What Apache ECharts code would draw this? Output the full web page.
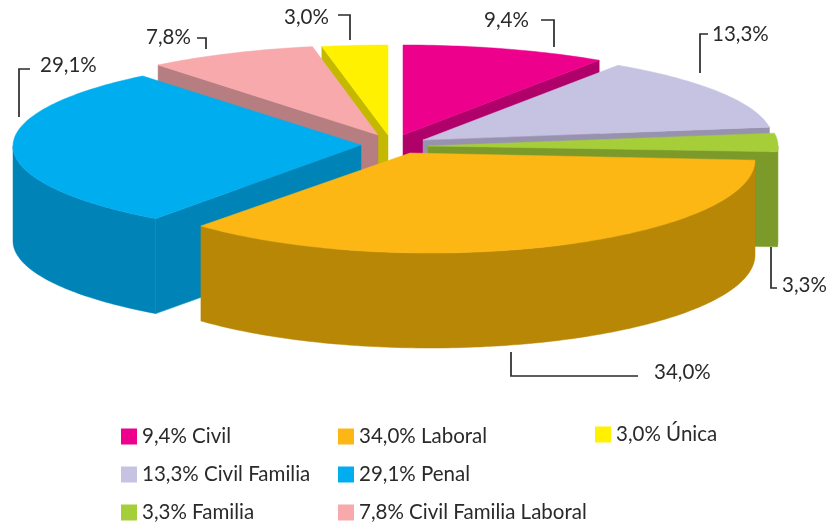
<!DOCTYPE html>
<html>
<head>
<meta charset="UTF-8">
<title>Pie 3D</title>
<style>
html, body { margin: 0; padding: 0; background: #fff; }
#chart { width: 828px; height: 525px; }
</style>
<script src="https://cdn.jsdelivr.net/npm/echarts@6/dist/echarts.min.js"></script>
</head>
<body>
<div id="chart"></div>
<script>
// data, clockwise from 12 o'clock
var categories = ['Civil', 'Civil Familia', 'Familia', 'Laboral', 'Penal', 'Civil Familia Laboral', 'Única'];
var percents = [9.4, 13.3, 3.3, 34.0, 29.1, 7.8, 3.0];
var percentLabels = ['9,4%', '13,3%', '3,3%', '34,0%', '29,1%', '7,8%', '3,0%'];

// look of the slices
var topColors = ['#ec008c', '#c6c3e2', '#a6ce39', '#fdb714', '#00aeef', '#f7a9ab', '#fff100'];
var wallColors = ['#b0006a', '#9793ae', '#7b9a2a', '#b98706', '#0084b8', '#b67e80', '#c4b800'];
var apexX = [403, 423, 428, 410, 361, 378, 388];
var apexY = [135, 140, 146, 153, 145, 135, 135];
// the rim ellipse of each slice; the near slice is drawn a bit off centre, like perspective does
var rimX = [403, 423, 428, 430, 362, 378, 388];
var rimY = [135, 140, 146, 160, 146, 135, 135];
var rimRX = [352, 350, 350, 325, 349, 350, 353];
var rimRY = [90, 90, 90, 93, 90, 90, 90];
var rimShiftStart = [0, 0, 0, -3.6, 0, 0, 0]; // degrees
var rimShiftEnd = [0, 0, 0, 8.6, 0, 0, 0];
var drawOrder = [0, 6, 1, 5, 2, 4, 3]; // back to front
var DEPTH = 95;

// legend spots, same order as categories
var legendLeft = [121, 121, 121, 338, 338, 338, 595];
var legendTop = [426, 464, 502, 426, 464, 502, 424];

// leader lines and where their text goes
var leaderLines = [
    [[554, 47], [554, 20], [541, 20]],
    [[700, 73], [700, 34], [708, 34]],
    [[771, 247], [771, 288], [777, 288]],
    [[511, 352], [511, 376], [638, 376]],
    [[19, 117], [19, 69], [30, 69]],
    [[206, 49], [206, 38], [197, 38]],
    [[350, 40], [350, 15], [338, 15]]
];
var labelSpots = [[484, 20], [712, 34], [782, 285], [654, 372], [40, 65], [146, 37], [284, 17]];

var FONT = 'Lato, "Open Sans", sans-serif';
var FONT_SIZE = 20.5;

var legendNames = [];
var starts = [], ends = [];
var total = 0;
for (var i = 0; i < percents.length; i++) total += percents[i];
var acc = 0;
var RAD = Math.PI / 180;
for (var i = 0; i < percents.length; i++) {
    legendNames.push(percentLabels[i] + ' ' + categories[i]);
    starts.push(acc / total * 360 * RAD + rimShiftStart[i] * RAD);
    acc += percents[i];
    ends.push(acc / total * 360 * RAD + rimShiftEnd[i] * RAD);
}

function pt(idx, a, down) {
    return [rimX[idx] + rimRX[idx] * Math.sin(a), rimY[idx] - rimRY[idx] * Math.cos(a) + (down || 0)];
}

function wallRadial(idx, a) {
    return {
        type: 'polygon',
        shape: { points: [
            [apexX[idx], apexY[idx]], pt(idx, a),
            pt(idx, a, DEPTH), [apexX[idx], apexY[idx] + DEPTH]
        ] },
        style: { fill: wallColors[idx], stroke: wallColors[idx], lineWidth: 0.5 }
    };
}

function renderSlice(idx) {
    var a0 = starts[idx], a1 = ends[idx];
    var kids = [];
    // radial faces, only the ones turned towards us
    if (Math.sin(a0) < 0) kids.push(wallRadial(idx, a0));
    if (Math.sin(a1) > 0) kids.push(wallRadial(idx, a1));
    // rim, front half only
    var from = Math.max(a0, Math.PI / 2), to = Math.min(a1, Math.PI * 1.5);
    var step = RAD, a;
    if (to > from) {
        var up = [], low = [];
        for (a = from; a < to; a += step) { up.push(pt(idx, a)); low.unshift(pt(idx, a, DEPTH)); }
        up.push(pt(idx, to)); low.unshift(pt(idx, to, DEPTH));
        kids.push({
            type: 'polygon',
            shape: { points: up.concat(low) },
            style: { fill: wallColors[idx], stroke: wallColors[idx], lineWidth: 0.5 }
        });
    }
    // top
    var pts = [[apexX[idx], apexY[idx]]];
    for (a = a0; a < a1; a += step) pts.push(pt(idx, a));
    pts.push(pt(idx, a1));
    kids.push({
        type: 'polygon',
        shape: { points: pts },
        style: { fill: topColors[idx], stroke: topColors[idx], lineWidth: 0.5 }
    });
    return { type: 'group', children: kids };
}

var seriesList = [];
drawOrder.forEach(function (idx, order) {
    seriesList.push({
        type: 'custom',
        name: legendNames[idx],
        coordinateSystem: 'none',
        z: 2 + order,
        silent: true,
        animation: false,
        itemStyle: { color: topColors[idx] },
        data: [[percents[idx]]],
        renderItem: function () { return renderSlice(idx); }
    });
});

var legends = legendNames.map(function (n, i) {
    return {
        left: legendLeft[i],
        top: legendTop[i],
        data: [{ name: n, icon: 'rect' }],
        itemWidth: 16,
        itemHeight: 16,
        selectedMode: false,
        padding: 0,
        textStyle: { fontFamily: FONT, fontSize: FONT_SIZE, color: '#2b2a29' }
    };
});

var graphics = [];
leaderLines.forEach(function (line, i) {
    graphics.push({
        type: 'polyline',
        z: 20,
        shape: { points: line },
        style: { fill: null, stroke: '#2b2a29', lineWidth: 1.7 }
    });
    graphics.push({
        type: 'text',
        z: 20,
        x: labelSpots[i][0],
        y: labelSpots[i][1],
        style: {
            text: percentLabels[i],
            fontFamily: FONT,
            fontSize: FONT_SIZE,
            fill: '#2b2a29',
            align: 'left',
            verticalAlign: 'middle'
        }
    });
});

var chart = echarts.init(document.getElementById('chart'), null, { renderer: 'canvas' });
chart.setOption({
    animation: false,
    backgroundColor: '#fff',
    legend: legends,
    series: seriesList,
    graphic: graphics
});
</script>
</body>
</html>
